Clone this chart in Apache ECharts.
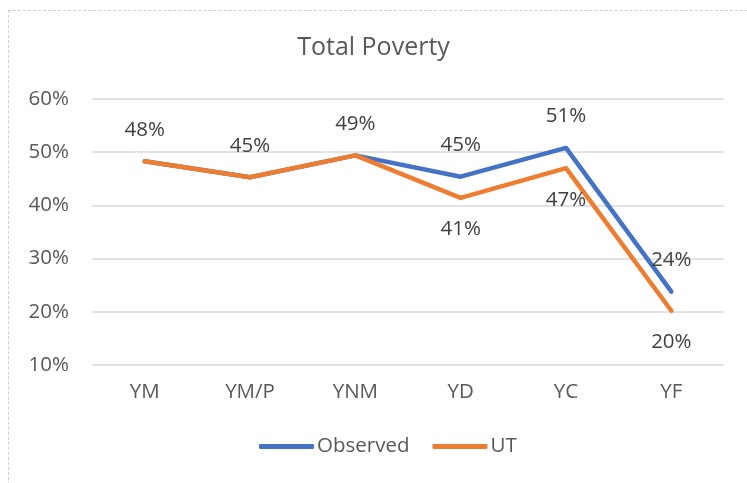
<!DOCTYPE html>
<html>
<head>
<meta charset="utf-8">
<script src="https://cdn.jsdelivr.net/npm/echarts@6/dist/echarts.min.js"></script>
<style>
  html, body { margin: 0; padding: 0; background: #fff; }
  #frame { position: absolute; left: 8px; top: 10px; width: 760px; height: 500px; border: 1px dashed #d0d0d0; box-sizing: border-box; }
  #chart { position: absolute; left: 0; top: 0; width: 747px; height: 483px; }
</style>
</head>
<body>
<div id="frame"></div>
<div id="chart"></div>
<script>
// data
const categories = ['YM', 'YM/P', 'YNM', 'YD', 'YC', 'YF']
const observed = [48.3, 45.3, 49.4, 45.4, 50.8, 23.8]
const ut = [48.3, 45.3, 49.4, 41.4, 47.0, 20.2]
const yTicks = [10, 20, 30, 40, 50, 60]

const textColor = '#595959'
const fontFamily = '"Open Sans", sans-serif'

const chart = echarts.init(document.getElementById('chart'))

const labelStyle = {
  show: true,
  fontSize: 20.5,
  color: '#404040',
  fontFamily: fontFamily,
  distance: 21,
  formatter: p => Math.round(p.value) + '%'
}

const option = {
  animation: false,
  title: {
    text: 'Total Poverty',
    left: 'center',
    top: 30,
    textStyle: { fontSize: 25, fontWeight: 'normal', color: textColor, fontFamily: fontFamily }
  },
  legend: {
    bottom: 21,
    left: 254,
    itemWidth: 55,
    itemHeight: 5,
    itemGap: 23,
    icon: 'roundRect',
    textStyle: { fontSize: 20.5, color: textColor, fontFamily: fontFamily, padding: [0, 0, 0, -2] },
    data: ['Observed', 'UT']
  },
  grid: { left: 92, right: 23, top: 99, bottom: 118 },
  xAxis: {
    type: 'category',
    data: categories,
    boundaryGap: true,
    axisLine: { show: false },
    axisTick: { show: false },
    axisLabel: { fontSize: 20.5, color: textColor, fontFamily: fontFamily, margin: 17 }
  },
  yAxis: {
    type: 'value',
    min: yTicks[0],
    max: yTicks[yTicks.length - 1],
    interval: 10,
    axisLine: { show: false },
    axisTick: { show: false },
    axisLabel: { fontSize: 20.5, color: textColor, fontFamily: fontFamily, margin: 23, formatter: '{value}%' },
    splitLine: { lineStyle: { color: '#d9d9d9', width: 1.5 } }
  },
  series: [
    {
      name: 'UT',
      type: 'line',
      data: ut.map((v, i) => ({ value: v, label: { show: i >= 3 } })),
      symbol: 'circle',
      symbolSize: 0,
      showSymbol: true,
      lineStyle: { color: '#ED7D31', width: 4.5, cap: 'round', join: 'round' },
      itemStyle: { color: '#ED7D31' },
      label: Object.assign({}, labelStyle, { position: 'bottom' }),
      z: 2
    },
    {
      name: 'Observed',
      type: 'line',
      data: observed,
      symbol: 'circle',
      symbolSize: 0,
      showSymbol: true,
      lineStyle: { color: '#4472C4', width: 4.5, cap: 'round', join: 'round' },
      itemStyle: { color: '#4472C4' },
      label: Object.assign({}, labelStyle, { position: 'top' }),
      z: 1
    }
  ]
}

chart.setOption(option)
</script>
</body>
</html>
